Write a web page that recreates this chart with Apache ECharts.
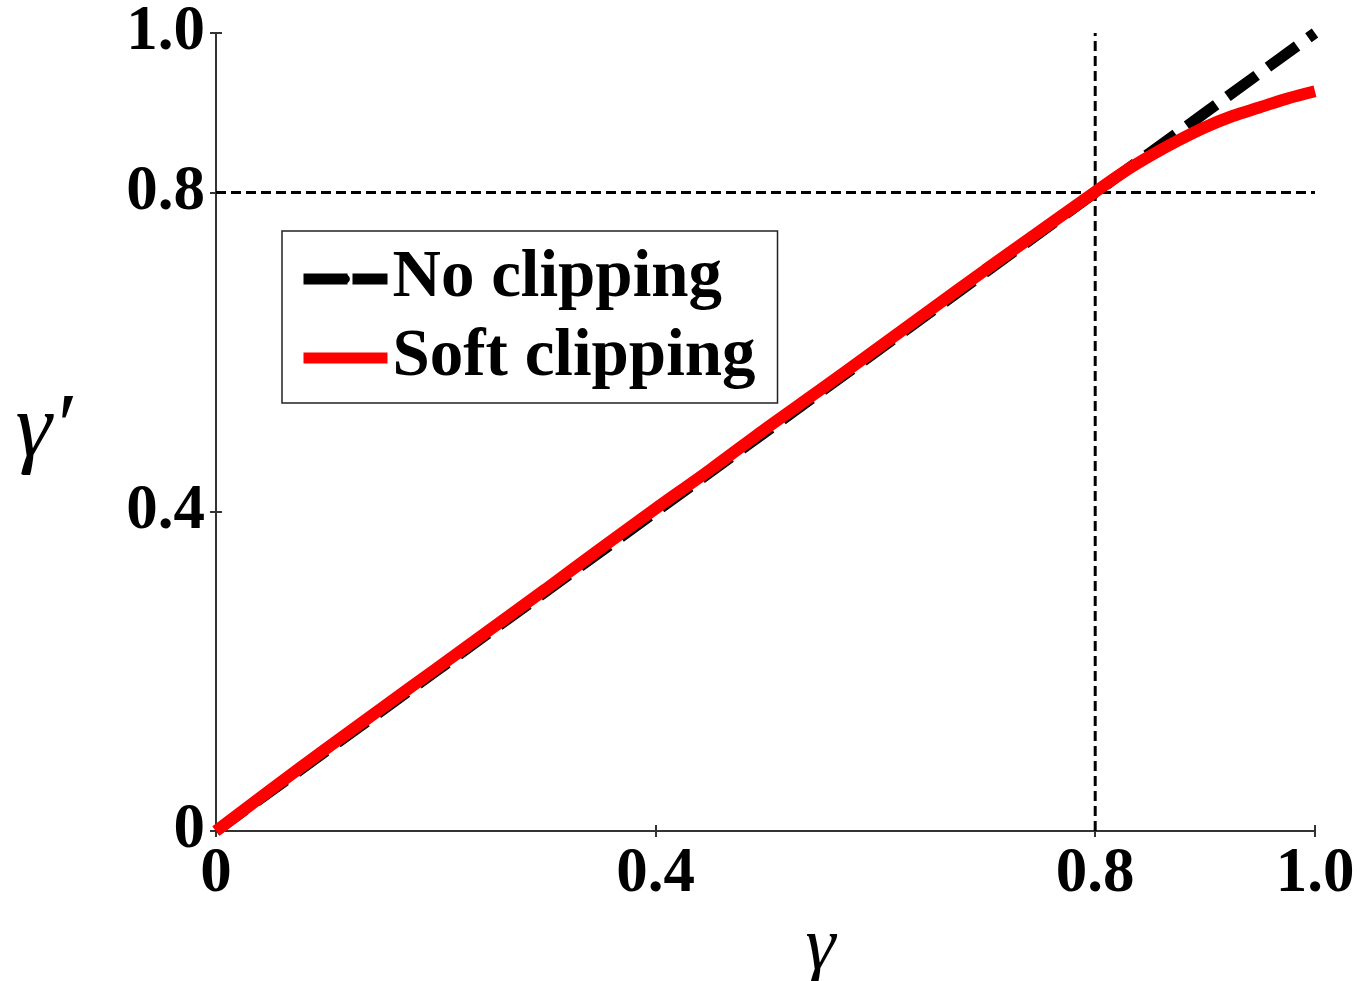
<!DOCTYPE html>
<html>
<head>
<meta charset="utf-8">
<script src="https://cdn.jsdelivr.net/npm/echarts@6/dist/echarts.min.js"></script>
<style>
html,body{margin:0;padding:0;background:#fff;}
#chart{width:1372px;height:981px;}
</style>
</head>
<body>
<div id="chart"></div>
<script>
// ---- data ----
const noClipX = [0, 0.2, 0.4, 0.6, 0.8, 0.85, 0.9, 0.95, 1.0];
const noClipY = [0, 0.2, 0.4, 0.6, 0.8, 0.85, 0.9, 0.95, 1.0];
const softX = [0, 0.05, 0.1, 0.15, 0.2, 0.25, 0.3, 0.35, 0.4, 0.45, 0.5, 0.55, 0.6, 0.65, 0.7, 0.75, 0.8, 0.825, 0.85, 0.875, 0.9, 0.925, 0.95, 0.975, 1.0];
const softY = [0, 0.052, 0.103, 0.153, 0.203, 0.253, 0.303, 0.354, 0.404, 0.453, 0.504, 0.553, 0.603, 0.653, 0.703, 0.752, 0.801, 0.825, 0.846, 0.865, 0.882, 0.896, 0.907, 0.918, 0.927];
const refX = [[0.8, 0], [0.8, 1.0]];
const refY = [[0, 0.8], [1.0, 0.8]];
const tickInterval = 0.4;
const seriesNames = ['No clipping', 'Soft clipping'];
const xName = 'γ';
const yName = 'γ′';

const zip = (xs, ys) => xs.map((x, i) => [x, ys[i]]);
const fmt = v => (v === 0 ? '0' : v.toFixed(1));

const labelFont = {fontFamily: 'Liberation Serif', fontWeight: 'bold', fontSize: 63, color: '#000'};
const frameLine = () => ({show: true, lineStyle: {color: '#333', width: 2}});
const tick = () => ({show: true, inside: false, length: -6, lineStyle: {color: '#333', width: 2}});

const chart = echarts.init(document.getElementById('chart'));
chart.setOption({
  animation: false,
  backgroundColor: '#fff',
  grid: {left: 216, right: 57, top: 33, bottom: 150, containLabel: false, outerBoundsMode: 'none'},
  legend: {
    orient: 'vertical',
    left: 282, top: 231,
    padding: [14, 22, 11, 16],
    itemGap: 11,
    itemWidth: 84, itemHeight: 11,
    borderColor: '#222', borderWidth: 1.5,
    backgroundColor: '#fff',
    lineStyle: {width: 11},
    textStyle: {fontFamily: 'Liberation Serif', fontWeight: 'bold', fontSize: 67, lineHeight: 68, color: '#000'},
    data: [
      {name: seriesNames[0], lineStyle: {type: [44, 5], width: 11, color: '#000'}},
      {name: seriesNames[1], lineStyle: {width: 11, color: '#ff0000'}}
    ]
  },
  xAxis: [{
    type: 'value', min: 0, max: 1.0, interval: tickInterval, position: 'bottom',
    name: xName, nameLocation: 'middle', nameGap: 64,
    nameTextStyle: {fontFamily: 'Liberation Serif', fontStyle: 'italic', fontSize: 76, color: '#000', padding: [0, 0, 0, 110]},
    axisLine: frameLine(),
    axisTick: tick(),
    axisLabel: Object.assign({margin: 12, formatter: fmt, showMaxLabel: true}, labelFont),
    splitLine: {show: false}
  }, {
    type: 'value', min: 0, max: 1.0, interval: tickInterval, position: 'top',
    axisLine: frameLine(),
    axisTick: tick(),
    axisLabel: {show: false},
    splitLine: {show: false}
  }],
  yAxis: [{
    type: 'value', min: 0, max: 1.0, interval: tickInterval, position: 'left',
    name: yName, nameLocation: 'middle', nameGap: 144, nameRotate: 0,
    nameTextStyle: {fontFamily: 'Liberation Serif', fontStyle: 'italic', fontSize: 92, color: '#000'},
    axisLine: frameLine(),
    axisTick: tick(),
    axisLabel: Object.assign({margin: 11, formatter: fmt, showMaxLabel: true}, labelFont),
    splitLine: {show: false}
  }, {
    type: 'value', min: 0, max: 1.0, interval: tickInterval, position: 'right',
    axisLine: frameLine(),
    axisTick: tick(),
    axisLabel: {show: false},
    splitLine: {show: false}
  }],
  series: [
    {
      name: 'refX', type: 'line', data: refX, symbol: 'none', silent: true,
      lineStyle: {color: '#000', width: 3, type: [10, 5]}, z: 1
    },
    {
      name: 'refY', type: 'line', data: refY, symbol: 'none', silent: true,
      lineStyle: {color: '#000', width: 3, type: [10, 5]}, z: 1
    },
    {
      name: seriesNames[0], type: 'line', data: zip(noClipX, noClipY), symbol: 'none',
      lineStyle: {color: '#000', width: 11, type: [36, 14]}, itemStyle: {color: '#000'}, z: 2
    },
    {
      name: seriesNames[1], type: 'line', data: zip(softX, softY), symbol: 'none', smooth: 0.3,
      lineStyle: {color: '#ff0000', width: 12}, itemStyle: {color: '#ff0000'}, z: 3
    }
  ]
});
</script>
</body>
</html>
